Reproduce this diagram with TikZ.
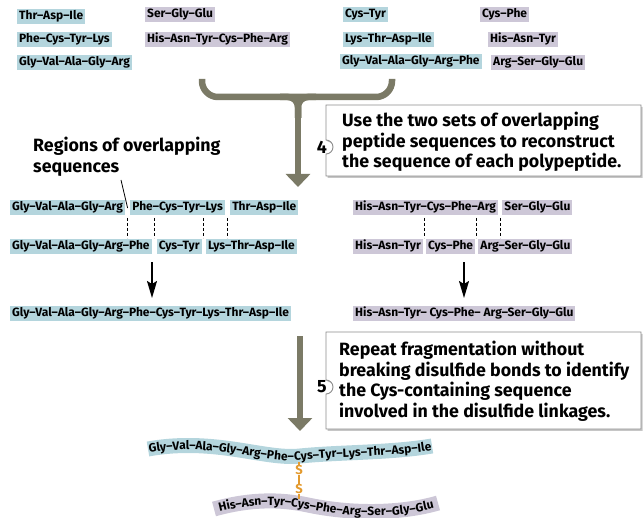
\documentclass[tikz,border=0pt]{standalone}
\usepackage{fontspec}
\setmainfont{Fira Sans}
\usetikzlibrary{positioning,arrows.meta,decorations.text,shadows,calc}

\definecolor{pepblue}{HTML}{B4D5DD}
\definecolor{peppurple}{HTML}{CDC7D7}
\definecolor{olivegray}{HTML}{7B7A66}
\definecolor{sulfur}{HTML}{E39A2E}
\definecolor{framegray}{HTML}{8C8C8C}

\newcommand{\pepfont}{\bfseries\fontsize{12}{14}\selectfont}
\newcommand{\notefont}{\bfseries\fontsize{17.8}{20.5}\selectfont}

\tikzset{
  pep/.style={font=\pepfont, inner xsep=2pt, inner ysep=1.5pt, text height=9pt, text depth=3pt, anchor=west},
  chainA/.style={pep, fill=pepblue},
  chainB/.style={pep, fill=peppurple},
  note/.style={font=\notefont, align=left, anchor=north west, inner sep=0pt},
  stepnum/.style={font=\notefont, inner sep=0pt},
  stepframe/.style={draw=framegray, line width=0.9pt, fill=white, drop shadow={shadow xshift=1.5pt, shadow yshift=-1.8pt, opacity=0.45}},
  bracket/.style={draw=olivegray, line width=6.5pt},
  bigarrow/.style={draw=olivegray, line width=6.5pt, -{Triangle[width=24pt,length=13pt]}},
  smallarrow/.style={line width=1.6pt, -{Stealth[width=10pt,length=17pt,inset=3pt]}},
  overlap/.style={line width=0.9pt, dash pattern=on 3pt off 2pt},
  sulf/.style={text=sulfur, font=\bfseries\fontsize{13}{13}\selectfont, inner sep=0.5pt},
}

\begin{document}
\begin{tikzpicture}[x=1pt, y=-1pt, node distance=5pt]
  \useasboundingbox (0,0) rectangle (644,518);

  \node[chainA] (tTAI) at (17,17) {Thr–Asp–Ile};
  \node[chainA] (tPCTL) at (17,40) {Phe–Cys–Tyr–Lys};
  \node[chainA] (tGVAGA) at (17,63) {Gly–Val–Ala–Gly–Arg};
  \node[chainB] (tSGG) at (145,15) {Ser–Gly–Glu};
  \node[chainB] (tHATCPA) at (145,40) {His–Asn–Tyr–Cys–Phe–Arg};
  \node[chainA] (tCT) at (343,15) {Cys–Tyr};
  \node[chainA] (tLTAI) at (343,40) {Lys–Thr–Asp–Ile};
  \node[chainA] (tGVAGAP) at (340,62) {Gly–Val–Ala–Gly–Arg–Phe};
  \node[chainB] (tCP) at (480,15) {Cys–Phe};
  \node[chainB] (tHAT) at (488,40) {His–Asn–Tyr};
  \node[chainB] (tASGG) at (491,63) {Arg–Ser–Gly–Glu};

  \draw[bracket, rounded corners=16pt] (202,79) -- (202,97) -- (392,97) -- (392,79);
  \draw[bracket, rounded corners=10pt] (280,97) -| (298,118);
  \draw[bracket, rounded corners=10pt] (316,97) -| (298,118);
  \coordinate (join4) at (298,97);
  \coordinate (tip4) at (298,187);
  \draw[bigarrow] (join4) -- (tip4);

  \draw[stepframe] (326,105) -- (641,105) -- (641,176) -- (326,176) -- (326,154)
    arc[start angle=-90, end angle=90, radius=7pt] -- cycle;
  \node[stepnum] (num4) at (322,147) {4};
  \node[note] (step4) at (342,112) {Use the two sets of overlapping\\peptide sequences to reconstruct\\the sequence of each polypeptide.};

  \node[note] (regions) at (33,137) {Regions of overlapping\\sequences};

  \node[chainA] (mGVAGA) at (10,208) {Gly–Val–Ala–Gly–Arg};
  \node[chainA] (mPCTL) [right=of mGVAGA] {Phe–Cys–Tyr–Lys};
  \node[chainA] (mTAI) [right=of mPCTL] {Thr–Asp–Ile};
  \node[chainA] (mGVAGAP) at (10,247) {Gly–Val–Ala–Gly–Arg–Phe};
  \node[chainA] (mCT) [right=of mGVAGAP] {Cys–Tyr};
  \node[chainA] (mLTAI) [right=4pt of mCT] {Lys–Thr–Asp–Ile};
  \node[chainA] (mFullA) at (10,313) {Gly–Val–Ala–Gly–Arg–Phe–Cys–Tyr–Lys–Thr–Asp–Ile};

  \coordinate (gap1) at ($(mGVAGA.east)!.5!(mPCTL.west)$);
  \coordinate (ptr) at (121,180);
  \draw[line width=0.8pt] (ptr) -- (gap1);
  \draw[overlap] (gap1) ++(0,10) -- ++(0,20);
  \draw[overlap] ($(mPCTL.east)!.5!(mTAI.west)$) ++(0,10) -- ++(0,20);
  \draw[overlap] ($(mGVAGAP.east)!.5!(mCT.west)$) ++(0,-29) -- ++(0,20);
  \draw[overlap] ($(mCT.east)!.5!(mLTAI.west)$) ++(0,-29) -- ++(0,20);

  \node[chainB] (mHATCPA) at (353,208) {His–Asn–Tyr–Cys–Phe–Arg};
  \node[chainB] (mSGG) [right=4pt of mHATCPA] {Ser–Gly–Glu};
  \node[chainB] (mHAT) at (353,247) {His–Asn–Tyr};
  \node[chainB] (mCP) [right=3pt of mHAT] {Cys–Phe};
  \node[chainB] (mASGG) [right=3pt of mCP] {Arg–Ser–Gly–Glu};
  \node[chainB] (mFullB) at (353,313) {His–Asn–Tyr– Cys–Phe– Arg–Ser–Gly–Glu};

  \draw[overlap] ($(mHATCPA.east)!.5!(mSGG.west)$) ++(0,10) -- ++(0,20);
  \draw[overlap] ($(mHAT.east)!.5!(mCP.west)$) ++(0,-29) -- ++(0,20);
  \draw[overlap] ($(mCP.east)!.5!(mASGG.west)$) ++(0,-29) -- ++(0,20);

  \coordinate (arrA) at (152,262);
  \coordinate (tipA) at (152,298);
  \coordinate (arrB) at (464,262);
  \coordinate (tipB) at (464,298);
  \draw[smallarrow] (arrA) -- (tipA);
  \draw[smallarrow] (arrB) -- (tipB);

  \coordinate (join5) at (300,336);
  \coordinate (tip5) at (300,431);
  \draw[bigarrow] (join5) -- (tip5);

  \draw[stepframe] (326,332) -- (641,332) -- (641,429) -- (326,429) -- (326,394)
    arc[start angle=-90, end angle=90, radius=7pt] -- cycle;
  \node[stepnum] (num5) at (322,387) {5};
  \node[note] (step5) at (339,341) {Repeat fragmentation without\\breaking disulfide bonds to identify\\the Cys-containing sequence\\involved in the disulfide linkages.};

  \draw[pepblue, line width=15pt] (148,449) .. controls (215,437) and (265,460) .. (300,456)
    .. controls (340,452) and (390,453) .. (432,446);
  \path[decorate, decoration={text along path, text align=center, raise=-4.2pt,
    text={|\pepfont|Gly–Val–Ala–Gly–Arg–Phe–Cys–Tyr–Lys–Thr–Asp–Ile}}]
    (148,449) .. controls (215,437) and (265,460) .. (300,456)
    .. controls (340,452) and (390,453) .. (432,446);

  \draw[peppurple, line width=15pt] (214,509) .. controls (250,499) and (280,499) .. (308,505)
    .. controls (350,514) and (400,514) .. (438,503);
  \path[decorate, decoration={text along path, text align=center, raise=-4.2pt,
    text={|\pepfont|His–Asn–Tyr–Cys–Phe–Arg–Ser–Gly–Glu}}]
    (214,509) .. controls (250,499) and (280,499) .. (308,505)
    .. controls (350,514) and (400,514) .. (438,503);

  \coordinate (cysA) at (299,462);
  \coordinate (cysB) at (299,499);
  \node[sulf] (s1) at (299,470) {S};
  \node[sulf] (s2) at (299,489) {S};
  \draw[sulfur, line width=1.5pt] (cysA) -- (s1) (s1) -- (s2) (s2) -- (cysB);
\end{tikzpicture}
\end{document}
